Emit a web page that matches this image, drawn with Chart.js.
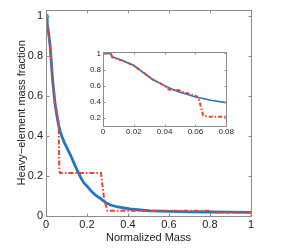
<!DOCTYPE html>
<html>
<head>
<meta charset="utf-8">
<script src="https://cdn.jsdelivr.net/npm/chart.js@4"></script>
<style>
  body { margin: 0; background: #fff; }
  #wrap { position: relative; width: 289px; height: 250px; }
  #main { position: absolute; left: 0; top: 0; }
  #inset { position: absolute; left: 80px; top: 45px; }
</style>
</head>
<body>
<div id="wrap">
  <canvas id="main" width="289" height="250"></canvas>
  <canvas id="inset" width="155" height="95"></canvas>
</div>
<script>
// simulation (solid blue)
var simX = [0, 0.005, 0.006, 0.013, 0.02, 0.026, 0.032, 0.039, 0.045, 0.05, 0.055, 0.06, 0.065, 0.07, 0.08, 0.09, 0.1, 0.114, 0.127, 0.14, 0.154, 0.17, 0.185, 0.203, 0.216, 0.24, 0.268, 0.29, 0.314, 0.35, 0.41, 0.46, 0.51, 0.6, 0.7, 0.8, 0.9, 1.0];
var simY = [1, 1, 0.96, 0.91, 0.85, 0.765, 0.68, 0.61, 0.555, 0.52, 0.49, 0.46, 0.44, 0.42, 0.39, 0.365, 0.345, 0.315, 0.287, 0.255, 0.225, 0.19, 0.165, 0.146, 0.129, 0.105, 0.085, 0.068, 0.055, 0.045, 0.035, 0.03, 0.026, 0.023, 0.021, 0.02, 0.019, 0.018];

// model (red dash-dot)
var modelX = [0, 0.005, 0.006, 0.013, 0.02, 0.026, 0.032, 0.039, 0.043, 0.049, 0.052, 0.056, 0.06, 0.062, 0.065, 0.068, 0.268, 0.284, 0.3, 0.8, 0.82, 0.995, 1.0];
var modelY = [1, 1, 0.95, 0.91, 0.85, 0.765, 0.68, 0.61, 0.55, 0.545, 0.52, 0.5, 0.475, 0.45, 0.23, 0.215, 0.215, 0.08, 0.026, 0.026, 0.018, 0.018, 0];

var mainXTicks = [0, 0.2, 0.4, 0.6, 0.8, 1];
var mainYTicks = [0, 0.2, 0.4, 0.6, 0.8, 1];
var insetXTicks = [0, 0.02, 0.04, 0.06, 0.08];
var insetYTicks = [0.2, 0.4, 0.6, 0.8, 1];

var BLUE = "#1f77c8";
var RED = "#f0402a";
var BOX = "#8c8c8c";
var FONT = "'Liberation Sans', Arial, sans-serif";

function pts(xs, ys) {
  return xs.map(function (x, i) { return { x: x, y: ys[i] }; });
}

function fmt(v) {
  return String(Math.round(v * 1000) / 1000);
}

// matlab-like box with inward ticks on all four sides
var boxTicks = {
  id: "boxTicks",
  beforeDraw: function (chart, args, opts) {
    if (!opts.fill) return;
    var ctx = chart.ctx;
    ctx.save();
    ctx.fillStyle = "#fff";
    ctx.fillRect(0, 0, chart.width, chart.height);
    ctx.restore();
  },
  afterDatasetsDraw: function (chart, args, opts) {
    var ctx = chart.ctx, a = chart.chartArea;
    var sx = chart.scales.x, sy = chart.scales.y;
    var L = Math.round(a.left) + 0.5, R = Math.round(a.right) + 0.5;
    var T = Math.round(a.top) + 0.5, B = Math.round(a.bottom) + 0.5;
    var len = opts.len;
    ctx.save();
    ctx.strokeStyle = BOX;
    ctx.lineWidth = 1;
    ctx.strokeRect(L, T, R - L, B - T);
    ctx.beginPath();
    sx.ticks.forEach(function (t) {
      var px = Math.round(sx.getPixelForValue(t.value)) + 0.5;
      ctx.moveTo(px, B); ctx.lineTo(px, B - len);
      ctx.moveTo(px, T); ctx.lineTo(px, T + len);
    });
    sy.ticks.forEach(function (t) {
      var py = Math.round(sy.getPixelForValue(t.value)) + 0.5;
      ctx.moveTo(L, py); ctx.lineTo(L + len, py);
      ctx.moveTo(R, py); ctx.lineTo(R - len, py);
    });
    ctx.stroke();
    ctx.restore();
  }
};

function datasets(blueW, redW, dash) {
  return [
    {
      data: pts(modelX, modelY),
      borderColor: RED,
      borderWidth: redW,
      borderDash: dash,
      pointRadius: 0,
      tension: 0,
      fill: false
    },
    {
      data: pts(simX, simY),
      borderColor: BLUE,
      borderWidth: blueW,
      pointRadius: 0,
      tension: 0,
      fill: false
    }
  ];
}

var noGrid = { display: false, drawTicks: false };

new Chart(document.getElementById("main").getContext("2d"), {
  type: "line",
  data: { datasets: datasets(2.8, 2, [5, 2, 1.5, 2]) },
  options: {
    responsive: false,
    animation: false,
    devicePixelRatio: 1,
    layout: { padding: { left: 0, right: 38, top: 9, bottom: 0 } },
    plugins: { legend: { display: false }, tooltip: { enabled: false }, boxTicks: { len: 3 } },
    scales: {
      x: {
        type: "linear",
        min: 0, max: 1,
        afterBuildTicks: function (s) { s.ticks = mainXTicks.map(function (v) { return { value: v }; }); },
        afterFit: function (s) { s.height = 34; },
        grid: noGrid,
        border: { display: false },
        ticks: { padding: 2, color: "#222", font: { family: FONT, size: 11 }, maxRotation: 0, autoSkip: false, callback: fmt },
        title: { display: true, text: "Normalized Mass", color: "#222", font: { family: FONT, size: 11 }, padding: { top: 0, bottom: 5 } }
      },
      y: {
        type: "linear",
        min: 0, max: 1.03,
        afterBuildTicks: function (s) { s.ticks = mainYTicks.map(function (v) { return { value: v }; }); },
        afterFit: function (s) { s.width = 46; },
        grid: noGrid,
        border: { display: false },
        ticks: { padding: 3, color: "#222", font: { family: FONT, size: 11 }, autoSkip: false, callback: fmt },
        title: { display: true, text: "Heavy\u2212element mass fraction", color: "#222", font: { family: FONT, size: 11 }, padding: { top: 15, bottom: 0 } }
      }
    }
  },
  plugins: [boxTicks]
});

new Chart(document.getElementById("inset").getContext("2d"), {
  type: "line",
  data: { datasets: datasets(1.6, 2, [4, 2, 1.5, 2]) },
  options: {
    responsive: false,
    animation: false,
    devicePixelRatio: 1,
    layout: { padding: { left: 0, right: 8, top: 6, bottom: 0 } },
    plugins: { legend: { display: false }, tooltip: { enabled: false }, boxTicks: { len: 2, fill: true } },
    scales: {
      x: {
        type: "linear",
        min: 0, max: 0.08,
        afterBuildTicks: function (s) { s.ticks = insetXTicks.map(function (v) { return { value: v }; }); },
        afterFit: function (s) { s.height = 14; },
        grid: noGrid,
        border: { display: false },
        ticks: { padding: 1, color: "#222", font: { family: FONT, size: 8 }, maxRotation: 0, autoSkip: false, callback: fmt }
      },
      y: {
        type: "linear",
        min: 0.1, max: 1.02,
        afterBuildTicks: function (s) { s.ticks = insetYTicks.map(function (v) { return { value: v }; }); },
        afterFit: function (s) { s.width = 23; },
        grid: noGrid,
        border: { display: false },
        ticks: { padding: 2, color: "#222", font: { family: FONT, size: 8 }, autoSkip: false, callback: fmt }
      }
    }
  },
  plugins: [boxTicks]
});
</script>
</body>
</html>
